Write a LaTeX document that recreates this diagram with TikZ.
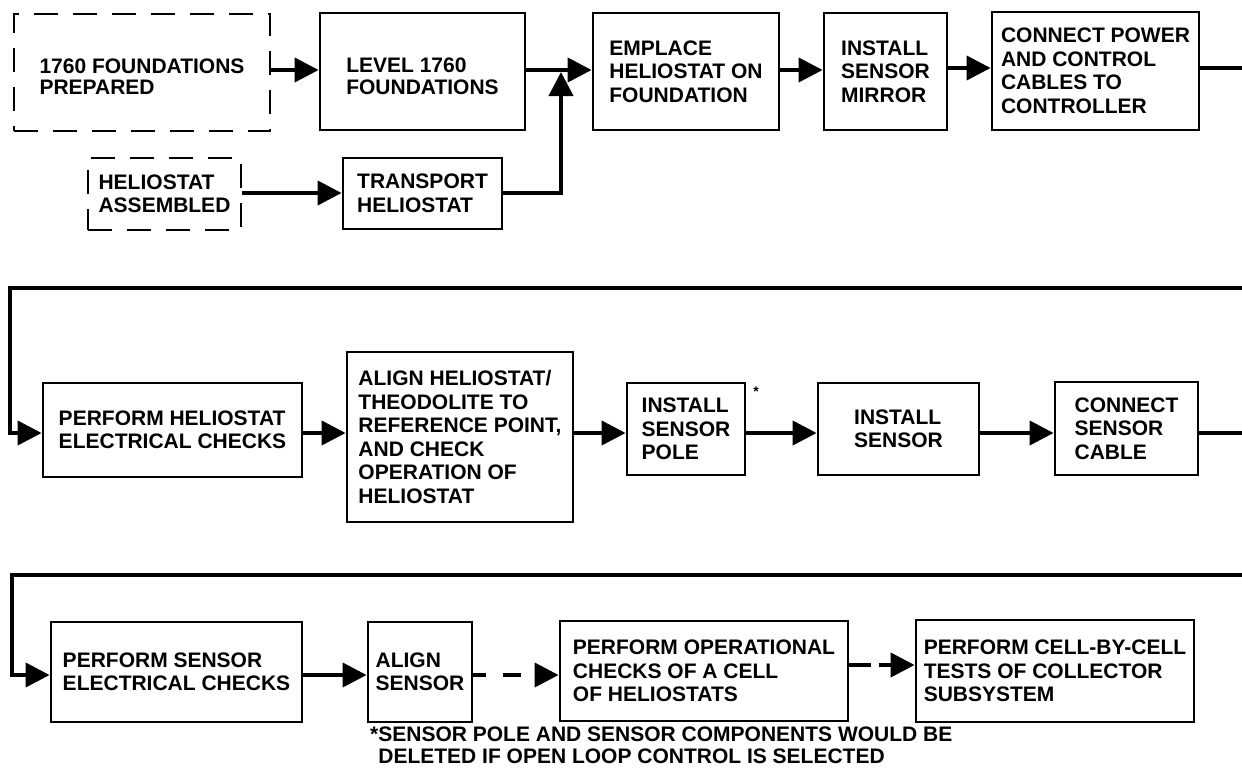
\documentclass[tikz,border=0pt]{standalone}
\usepackage{fontspec}
\setmainfont{Liberation Sans}
\usetikzlibrary{arrows.meta}
\begin{document}
\begin{tikzpicture}[x=1pt,y=-1pt,
  box/.style={draw, line width=2.8pt, rectangle, align=left, inner sep=0pt, font=\bfseries\fontsize{21}{23.5}\selectfont},
  dbox/.style={box, dash pattern=on 24pt off 15pt},
  tight/.style={align=left, inner sep=0pt, font=\bfseries\fontsize{21}{21.5}\selectfont},
  conn/.style={line width=4pt, -{Triangle[length=24pt,width=24pt]}},
  plain/.style={line width=4pt},
  note/.style={align=left, inner sep=0pt, font=\bfseries\fontsize{21}{22}\selectfont},
]
\useasboundingbox (0,0) rectangle (1242,777);
% row 1
\node[dbox, minimum width=256pt, minimum height=117pt] (A) at (142,72.5) {};
\node[tight] (At) at ([yshift=-4pt]A.center) {1760 FOUNDATIONS\\PREPARED};
\node[box, minimum width=205pt, minimum height=117pt] (B) at (422.5,71.5) {};
\node[tight] (Bt) at ([yshift=-5pt]B.center) {LEVEL 1760\\FOUNDATIONS};
\node[dbox, minimum width=153pt, minimum height=72pt] (C) at (164.5,194) {HELIOSTAT\\ASSEMBLED};
\node[box, minimum width=159pt, minimum height=71pt] (D) at (422.5,193.5) {TRANSPORT\\HELIOSTAT};
\node[box, minimum width=186pt, minimum height=117pt] (E) at (686,71.5) {EMPLACE\\HELIOSTAT ON\\FOUNDATION};
\node[box, minimum width=123pt, minimum height=117pt] (F) at (885.5,71.5) {INSTALL\\SENSOR\\MIRROR};
\node[box, minimum width=207pt, minimum height=118pt] (G) at (1095.5,71) {CONNECT POWER\\AND CONTROL\\CABLES TO\\CONTROLLER};
\coordinate (J1) at (561,72);
\coordinate (R1) at (1242,68);
\draw[conn] (A.east |- 0,70) -- (B.west |- 0,70);
\draw[conn] (B.east |- 0,70) -- (E.west |- 0,70);
\draw[conn] (C.east |- 0,193) -- (D.west |- 0,193);
\draw[conn] (D.east |- 0,193) -| (J1);
\draw[conn] (E.east |- 0,70) -- (F.west |- 0,70);
\draw[conn] (F.east |- 0,68) -- (G.west |- 0,68);
\draw[plain] (G.east |- R1) -- (R1);
% row 2
\node[box, minimum width=259pt, minimum height=94pt] (H) at (172.5,430) {PERFORM HELIOSTAT\\ELECTRICAL CHECKS};
\node[box, minimum width=226pt, minimum height=170pt] (I) at (460,437) {ALIGN HELIOSTAT/\\THEODOLITE TO\\REFERENCE POINT,\\AND CHECK\\OPERATION OF\\HELIOSTAT};
\node[box, minimum width=118pt, minimum height=92pt] (J) at (686,429) {INSTALL\\SENSOR\\POLE};
\node[box, minimum width=161pt, minimum height=92pt] (K) at (898.5,429) {INSTALL\\SENSOR};
\node[box, minimum width=143pt, minimum height=93pt] (L) at (1126.5,428.5) {CONNECT\\SENSOR\\CABLE};
\node[inner sep=0pt, font=\bfseries\fontsize{14}{14}\selectfont] (ast) at (756,392) {*};
\coordinate (R2a) at (1242,288);
\coordinate (L2a) at (10,288);
\coordinate (R2b) at (1242,433);
\draw[conn] (R2a) -- (L2a) |- (H.west |- 0,433);
\draw[conn] (H.east |- 0,433) -- (I.west |- 0,433);
\draw[conn] (I.east |- 0,433) -- (J.west |- 0,433);
\draw[conn] (J.east |- 0,433) -- (K.west |- 0,433);
\draw[conn] (K.east |- 0,433) -- (L.west |- 0,433);
\draw[plain] (L.east |- R2b) -- (R2b);
% row 3
\node[box, minimum width=251pt, minimum height=100pt] (M) at (176.5,672) {PERFORM SENSOR\\ELECTRICAL CHECKS};
\node[box, minimum width=104pt, minimum height=100pt] (N) at (420,672) {ALIGN\\SENSOR};
\node[box, minimum width=288pt, minimum height=100pt] (O) at (704,671) {PERFORM OPERATIONAL\\CHECKS OF A CELL\\OF HELIOSTATS};
\node[box, minimum width=278pt, minimum height=102pt] (P) at (1055,671) {PERFORM CELL-BY-CELL\\TESTS OF COLLECTOR\\SUBSYSTEM};
\coordinate (R3) at (1242,575);
\coordinate (L3) at (12,575);
\draw[conn] (R3) -- (L3) |- (M.west |- 0,675);
\draw[conn] (M.east |- 0,675) -- (N.west |- 0,675);
\draw[conn, dash pattern=on 13pt off 17pt on 18pt off 16pt] (N.east |- 0,675) -- (O.west |- 0,675);
\draw[conn, dash pattern=on 22pt off 8pt] (O.east |- 0,665) -- (P.west |- 0,665);
\node[note, anchor=north west] (fn) at (370,727) {*SENSOR POLE AND SENSOR COMPONENTS WOULD BE\\\phantom{*}DELETED IF OPEN LOOP CONTROL IS SELECTED};
\end{tikzpicture}
\end{document}
